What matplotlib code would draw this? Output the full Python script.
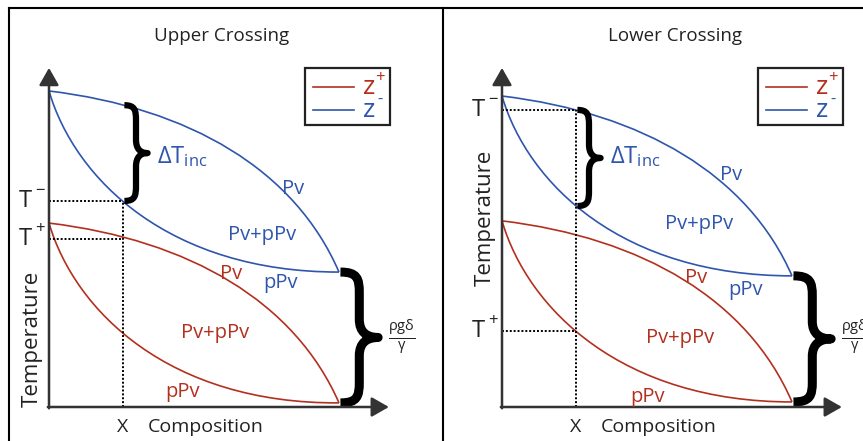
import matplotlib
matplotlib.use("Agg")
import matplotlib.pyplot as plt
from matplotlib.path import Path
from matplotlib.patches import PathPatch, Rectangle
from matplotlib.lines import Line2D

plt.rcParams['font.family'] = ['Open Sans', 'DejaVu Sans']
plt.rcParams['mathtext.fontset'] = 'custom'
plt.rcParams['mathtext.rm'] = 'Open Sans'
plt.rcParams['mathtext.it'] = 'Open Sans:italic'

RED = "#b3301f"
BLUE = "#2f55ad"
AXC = "#333333"

# composition of the sample, same in both panels
x_comp = 0.255

# curve control points (composition, temperature), cubic bezier
# --- upper crossing ---
up_blue_top = [(0.0, 1.0), (0.486, 0.946), (0.848, 0.750), (1.0, 0.427)]
up_blue_bot = [(0.0, 1.0), (0.090, 0.718), (0.417, 0.427), (1.0, 0.427)]
up_red_top = [(0.0, 0.582), (0.486, 0.528), (0.848, 0.332), (1.0, 0.013)]
up_red_bot = [(0.0, 0.582), (0.090, 0.301), (0.417, 0.010), (1.0, 0.013)]
# --- lower crossing ---
lo_blue_top = [(0.0, 0.984), (0.486, 0.930), (0.848, 0.734), (1.0, 0.415)]
lo_blue_bot = [(0.0, 0.984), (0.090, 0.703), (0.417, 0.415), (1.0, 0.415)]
lo_red_top = [(0.0, 0.589), (0.486, 0.535), (0.848, 0.339), (1.0, 0.016)]
lo_red_bot = [(0.0, 0.589), (0.090, 0.307), (0.417, 0.016), (1.0, 0.016)]

# marked temperatures
up_T_minus, up_T_plus = 0.652, 0.533
lo_T_minus, lo_T_plus = 0.940, 0.241
# delta T brace ends (low, high) and big brace ends
up_dT = (0.652, 0.955)
lo_dT = (0.636, 0.940)
up_gap = (0.013, 0.427)
lo_gap = (0.016, 0.415)

# label positions (composition, temperature baseline)
up_labels = [("Pv", 0.841, 0.674, BLUE), ("Pv+pPv", 0.734, 0.528, BLUE),
             ("pPv", 0.797, 0.377, BLUE), ("Pv", 0.628, 0.405, RED),
             ("Pv+pPv", 0.572, 0.218, RED), ("pPv", 0.462, 0.032, RED)]
lo_labels = [("Pv", 0.790, 0.718, BLUE), ("Pv+pPv", 0.679, 0.563, BLUE),
             ("pPv", 0.841, 0.354, BLUE), ("Pv", 0.669, 0.392, RED),
             ("Pv+pPv", 0.614, 0.203, RED), ("pPv", 0.500, 0.016, RED)]


def bezier(ax, pts, color):
    codes = [Path.MOVETO, Path.CURVE4, Path.CURVE4, Path.CURVE4]
    ax.add_patch(PathPatch(Path(pts, codes), fill=False, edgecolor=color,
                           lw=1.2, clip_on=False))


def brace(ax, x, y0, y1, w, lw):
    h = y1 - y0
    ym = (y0 + y1) / 2
    q = w * 0.5
    verts = [(x, y1),
             (x + 0.9 * q, y1), (x + q, y1 - 0.05 * h), (x + q, y1 - 0.16 * h),
             (x + q, ym + 0.14 * h),
             (x + q, ym + 0.04 * h), (x + q + 0.2 * w, ym), (x + w, ym),
             (x + q + 0.2 * w, ym), (x + q, ym - 0.04 * h), (x + q, ym - 0.14 * h),
             (x + q, y0 + 0.16 * h),
             (x + q, y0 + 0.05 * h), (x + 0.9 * q, y0), (x, y0)]
    codes = [Path.MOVETO, Path.CURVE4, Path.CURVE4, Path.CURVE4, Path.LINETO,
             Path.CURVE4, Path.CURVE4, Path.CURVE4, Path.CURVE4, Path.CURVE4,
             Path.CURVE4, Path.LINETO, Path.CURVE4, Path.CURVE4, Path.CURVE4]
    ax.add_patch(PathPatch(Path(verts, codes), fill=False, edgecolor="black",
                           lw=lw, capstyle="butt", joinstyle="round", clip_on=False))


def panel(ax, curves, T_minus, T_plus, dT, gap, labels, temp_y):
    ax.set_xlim(0, 1.18)
    ax.set_ylim(0, 1.08)
    ax.axis("off")

    # axes with arrows
    arrow = dict(arrowstyle="-|>,head_length=0.7,head_width=0.4", lw=1.8,
                 color=AXC, mutation_scale=15, shrinkA=0, shrinkB=0)
    ax.annotate("", xy=(1.172, 0), xytext=(-0.004, 0), arrowprops=arrow,
                annotation_clip=False)
    ax.annotate("", xy=(0, 1.073), xytext=(0, -0.004), arrowprops=arrow,
                annotation_clip=False)

    for pts, col in curves:
        bezier(ax, pts, col)

    dot = dict(color="black", lw=1.4, ls=(0, (1, 1)), clip_on=False)
    ax.plot([0, x_comp], [T_minus, T_minus], **dot)
    ax.plot([0, x_comp], [T_plus, T_plus], **dot)
    ax.plot([x_comp, x_comp], [0, max(T_minus, T_plus)], **dot)

    brace(ax, x_comp + 0.005, dT[0], dT[1], 0.08, 4.5)
    brace(ax, 1.005, gap[0], gap[1], 0.13, 6.5)

    ax.text(0.372, 0.772, r"$\mathrm{\Delta T}_{\mathrm{inc}}$", color=BLUE,
            fontsize=17, va="baseline", ha="left")
    ax.text(1.218, 0.222, r"$\frac{\mathrm{\rho g\delta}}{\mathrm{\gamma}}$",
            color="#222222", fontsize=15, ha="center", va="center")

    for txt, cx, ty, col in labels:
        ax.text(cx, ty, txt, color=col, fontsize=14.5, ha="center", va="baseline")

    # T- / T+ tick labels
    for Tv, sign in ((T_minus, "\u2212"), (T_plus, "+")):
        ax.annotate("T", xy=(0, Tv), xytext=(-17, 0), textcoords="offset points",
                    fontsize=17, ha="center", va="center", color="#222222",
                    annotation_clip=False)
        ax.annotate(sign, xy=(0, Tv), xytext=(-6.5, 7), textcoords="offset points",
                    fontsize=12, ha="center", va="center", color="#222222",
                    annotation_clip=False)

    ax.text(-0.059, temp_y, "Temperature", rotation=90, fontsize=16,
            ha="center", va="center", color="#222222")
    ax.text(x_comp, -0.079, "X", fontsize=14, ha="center", va="baseline",
            color="#222222")
    ax.text(0.34, -0.079, "Composition", fontsize=14, ha="left", va="baseline",
            color="#222222")

    # legend
    ax.add_patch(Rectangle((0.883, 0.892), 0.293, 0.181, fill=False,
                           edgecolor="#222222", lw=1.6, clip_on=False))
    ax.plot([0.912, 1.05], [1.013, 1.013], color=RED, lw=1.2, clip_on=False)
    ax.plot([0.912, 1.05], [0.940, 0.940], color=BLUE, lw=1.2, clip_on=False)
    ax.text(1.083, 0.990, "z", color=RED, fontsize=19, ha="left", va="baseline")
    ax.text(1.083, 0.918, "z", color=BLUE, fontsize=19, ha="left", va="baseline")
    ax.text(1.141, 1.041, "+", color=RED, fontsize=12, ha="center", va="center")
    ax.text(1.141, 0.972, "-", color=BLUE, fontsize=12, ha="center", va="center")


fig = plt.figure(figsize=(8.63, 4.41), dpi=100)
W, H = 863, 441
ax1 = fig.add_axes([49 / W, 34 / H, 342.2 / W, 341.3 / H])
ax2 = fig.add_axes([502 / W, 34 / H, 342.2 / W, 341.3 / H])

panel(ax1, [(up_blue_top, BLUE), (up_blue_bot, BLUE), (up_red_top, RED), (up_red_bot, RED)],
      up_T_minus, up_T_plus, up_dT, up_gap, up_labels, 0.215)
panel(ax2, [(lo_blue_top, BLUE), (lo_blue_bot, BLUE), (lo_red_top, RED), (lo_red_bot, RED)],
      lo_T_minus, lo_T_plus, lo_dT, lo_gap, lo_labels, 0.598)

fig.text(222 / W, 1 - 41 / H, "Upper Crossing", fontsize=13.5, ha="center",
         va="baseline", color="#222222")
fig.text(675 / W, 1 - 41 / H, "Lower Crossing", fontsize=13.5, ha="center",
         va="baseline", color="#222222")

# panel frames
frame = dict(transform=fig.transFigure, color="black", lw=1.5)
fig.add_artist(Line2D([9 / W, 1], [1 - 8 / H, 1 - 8 / H], **frame))
fig.add_artist(Line2D([9 / W, 9 / W], [0, 1 - 8 / H], **frame))
fig.add_artist(Line2D([443 / W, 443 / W], [0, 1 - 8 / H], **frame))

fig.savefig("out.png", dpi=100)
